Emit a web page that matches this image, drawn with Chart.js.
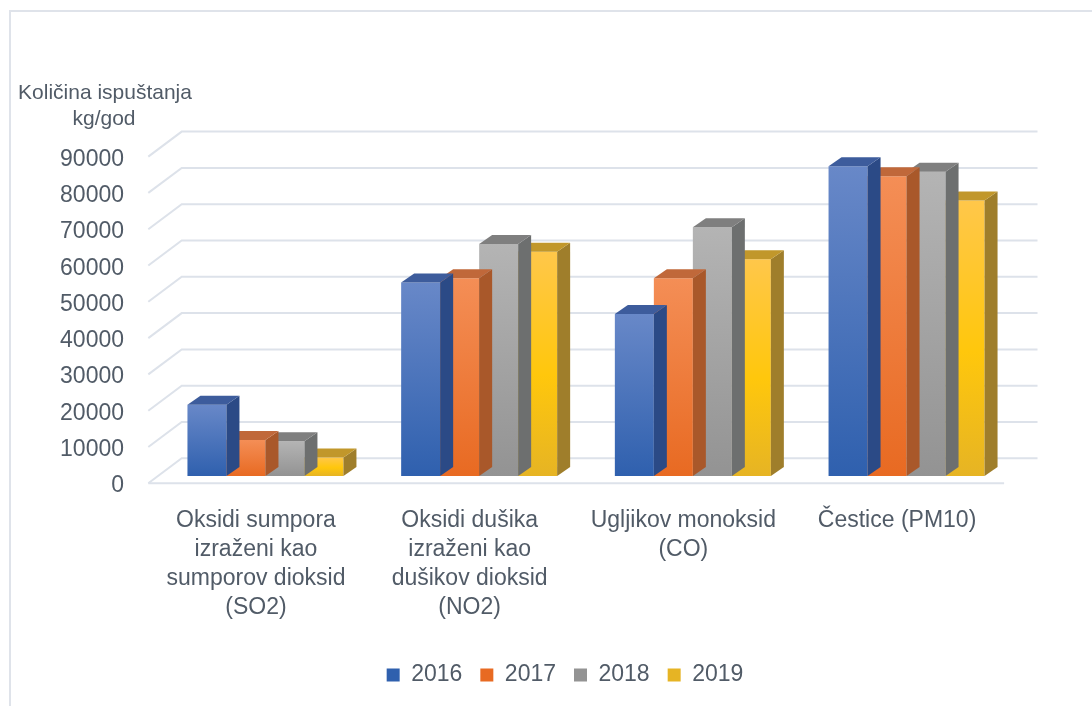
<!DOCTYPE html>
<html>
<head>
<meta charset="utf-8">
<script src="https://cdn.jsdelivr.net/npm/chart.js@4"></script>
<style>
  html, body { margin: 0; padding: 0; background: #ffffff; }
  #wrap { width: 1092px; height: 706px; }
</style>
</head>
<body>
<div id="wrap"><canvas id="c" width="1092" height="706"></canvas></div>
<script>
const categories = [
  ["Oksidi sumpora", "izraženi kao", "sumporov dioksid", "(SO2)"],
  ["Oksidi dušika", "izraženi kao", "dušikov dioksid", "(NO2)"],
  ["Ugljikov monoksid", "(CO)"],
  "Čestice (PM10)"
];
const seriesNames = ["2016", "2017", "2018", "2019"];
const s2016 = [19600, 53300, 44600, 85300];
const s2017 = [9900, 54500, 54500, 82600];
const s2018 = [9600, 63900, 68500, 83800];
const s2019 = [5100, 61800, 59700, 75900];
const yTicks = [0, 10000, 20000, 30000, 40000, 50000, 60000, 70000, 80000, 90000];
const axisTitle = ["Količina ispuštanja", "kg/god"];

const TEXT = '#515b67';
const FONT = "'Liberation Sans', Arial, sans-serif";

const styles = [
  { solid: '#4a70bb', top: '#6888c8', bottom: '#2f60ae', cap: '#3d5c9c', side: '#2b4a86' },
  { solid: '#ed7d31', top: '#f48e56', bottom: '#e86a22', cap: '#c0683a', side: '#a9582a' },
  { solid: '#a5a5a5', top: '#b4b4b4', bottom: '#939393', cap: '#7f7f7f', side: '#6d6f6f' },
  { solid: '#ffc000', top: '#ffc74a', mid: '#ffc70c', bottom: '#e6b424', cap: '#c1972b', side: '#9f7e2b' }
];

function faceColor(i) {
  return function(ctx) {
    const st = styles[i];
    if (ctx.type !== 'data') return st.solid;
    const chart = ctx.chart;
    const y = chart.scales && chart.scales.y;
    if (!y || !chart.chartArea) return st.solid;
    const t = y.getPixelForValue(ctx.raw);
    const b = y.getPixelForValue(0);
    if (!isFinite(t) || !isFinite(b) || b - t < 1) return st.solid;
    const g = chart.ctx.createLinearGradient(0, t, 0, b);
    g.addColorStop(0, st.top);
    if (st.mid) g.addColorStop(0.55, st.mid);
    g.addColorStop(1, st.bottom);
    return g;
  };
}

const DX = 13, DY = 9;              // bar depth (oblique projection)
const GF = { dx: -10.3, dy: 7.3 };  // front edge of floor/grid relative to bar plane
const GB = { dx: 23.1, dy: -17.7 }; // back wall relative to bar plane
const LEGEND_SHIFT = 58.3;

const framePlugin = {
  id: 'frame',
  afterLayout(chart) {
    if (chart.legend) {
      chart.legend.left += LEGEND_SHIFT;
      chart.legend.right += LEGEND_SHIFT;
    }
  },
  beforeDraw(chart) {
    const c = chart.ctx;
    c.save();
    c.fillStyle = '#ffffff';
    c.fillRect(0, 0, chart.width, chart.height);
    c.strokeStyle = '#dfe3ea';
    c.lineWidth = 2;
    c.beginPath();
    c.moveTo(10, chart.height);
    c.lineTo(10, 11);
    c.lineTo(chart.width, 11);
    c.stroke();
    c.restore();
  },
  beforeDatasetsDraw(chart) {
    const c = chart.ctx;
    const y = chart.scales.y;
    const a = chart.chartArea;
    c.save();
    c.strokeStyle = '#dde2ea';
    c.lineWidth = 2;
    y.ticks.forEach(t => {
      const yb = y.getPixelForValue(t.value);
      c.beginPath();
      c.moveTo(a.left + GF.dx, yb + GF.dy);
      c.lineTo(a.left + GB.dx, yb + GB.dy);
      c.lineTo(a.right + GB.dx + 1, yb + GB.dy);
      c.stroke();
    });
    const y0 = y.getPixelForValue(0);
    c.beginPath();
    c.moveTo(a.left + GF.dx, y0 + GF.dy);
    c.lineTo(a.right + GF.dx + 1, y0 + GF.dy);
    c.stroke();
    c.restore();
  },
  afterDatasetDraw(chart, args) {
    const c = chart.ctx;
    const st = styles[args.index];
    const meta = args.meta;
    c.save();
    meta.data.forEach(el => {
      const p = el.getProps(['x', 'y', 'base', 'width'], true);
      const l = p.x - p.width / 2, r = p.x + p.width / 2, t = p.y, b = p.base;
      c.fillStyle = st.side;
      c.beginPath();
      c.moveTo(r, t);
      c.lineTo(r + DX, t - DY);
      c.lineTo(r + DX, b - DY);
      c.lineTo(r, b);
      c.closePath();
      c.fill();
      c.fillStyle = st.cap;
      c.beginPath();
      c.moveTo(l, t);
      c.lineTo(l + DX, t - DY);
      c.lineTo(r + DX, t - DY);
      c.lineTo(r, t);
      c.closePath();
      c.fill();
    });
    c.restore();
  },
  afterDraw(chart) {
    const c = chart.ctx;
    c.save();
    c.fillStyle = TEXT;
    c.font = "21px " + FONT;
    c.textAlign = 'center';
    c.textBaseline = 'alphabetic';
    c.fillText(axisTitle[0], 105, 99);
    c.fillText(axisTitle[1], 104, 125);
    c.restore();
  }
};

const allSeries = [s2016, s2017, s2018, s2019];

new Chart(document.getElementById('c'), {
  type: 'bar',
  data: {
    labels: categories,
    datasets: allSeries.map((d, i) => ({
      label: seriesNames[i],
      data: d,
      backgroundColor: faceColor(i),
      borderWidth: 0,
      categoryPercentage: 0.73,
      barPercentage: 1.0
    }))
  },
  options: {
    responsive: false,
    devicePixelRatio: 1,
    animation: false,
    layout: { padding: { left: 0, right: 78.6, top: 149.3, bottom: 9.5 } },
    plugins: {
      tooltip: { enabled: false },
      legend: {
        position: 'bottom',
        labels: {
          boxWidth: 13,
          boxHeight: 13,
          padding: 18,
          color: TEXT,
          font: { family: FONT, size: 23 }
        }
      }
    },
    scales: {
      x: {
        grid: { display: false },
        border: { display: false },
        ticks: {
          color: TEXT,
          font: { family: FONT, size: 23, lineHeight: 1.26 },
          padding: 22,
          labelOffset: -9.5,
          maxRotation: 0,
          autoSkip: false
        },
        afterFit(scale) { scale.height = 169.5; }
      },
      y: {
        min: 0,
        max: 90000,
        grid: { display: false },
        border: { display: false },
        afterBuildTicks(scale) { scale.ticks = yTicks.map(v => ({ value: v })); },
        ticks: {
          color: TEXT,
          font: { family: FONT, size: 23 },
          padding: 26.6,
          labelOffset: 10,
          callback: v => String(v)
        },
        afterFit(scale) { scale.width = 158.6; }
      }
    }
  },
  plugins: [framePlugin]
});
</script>
</body>
</html>
